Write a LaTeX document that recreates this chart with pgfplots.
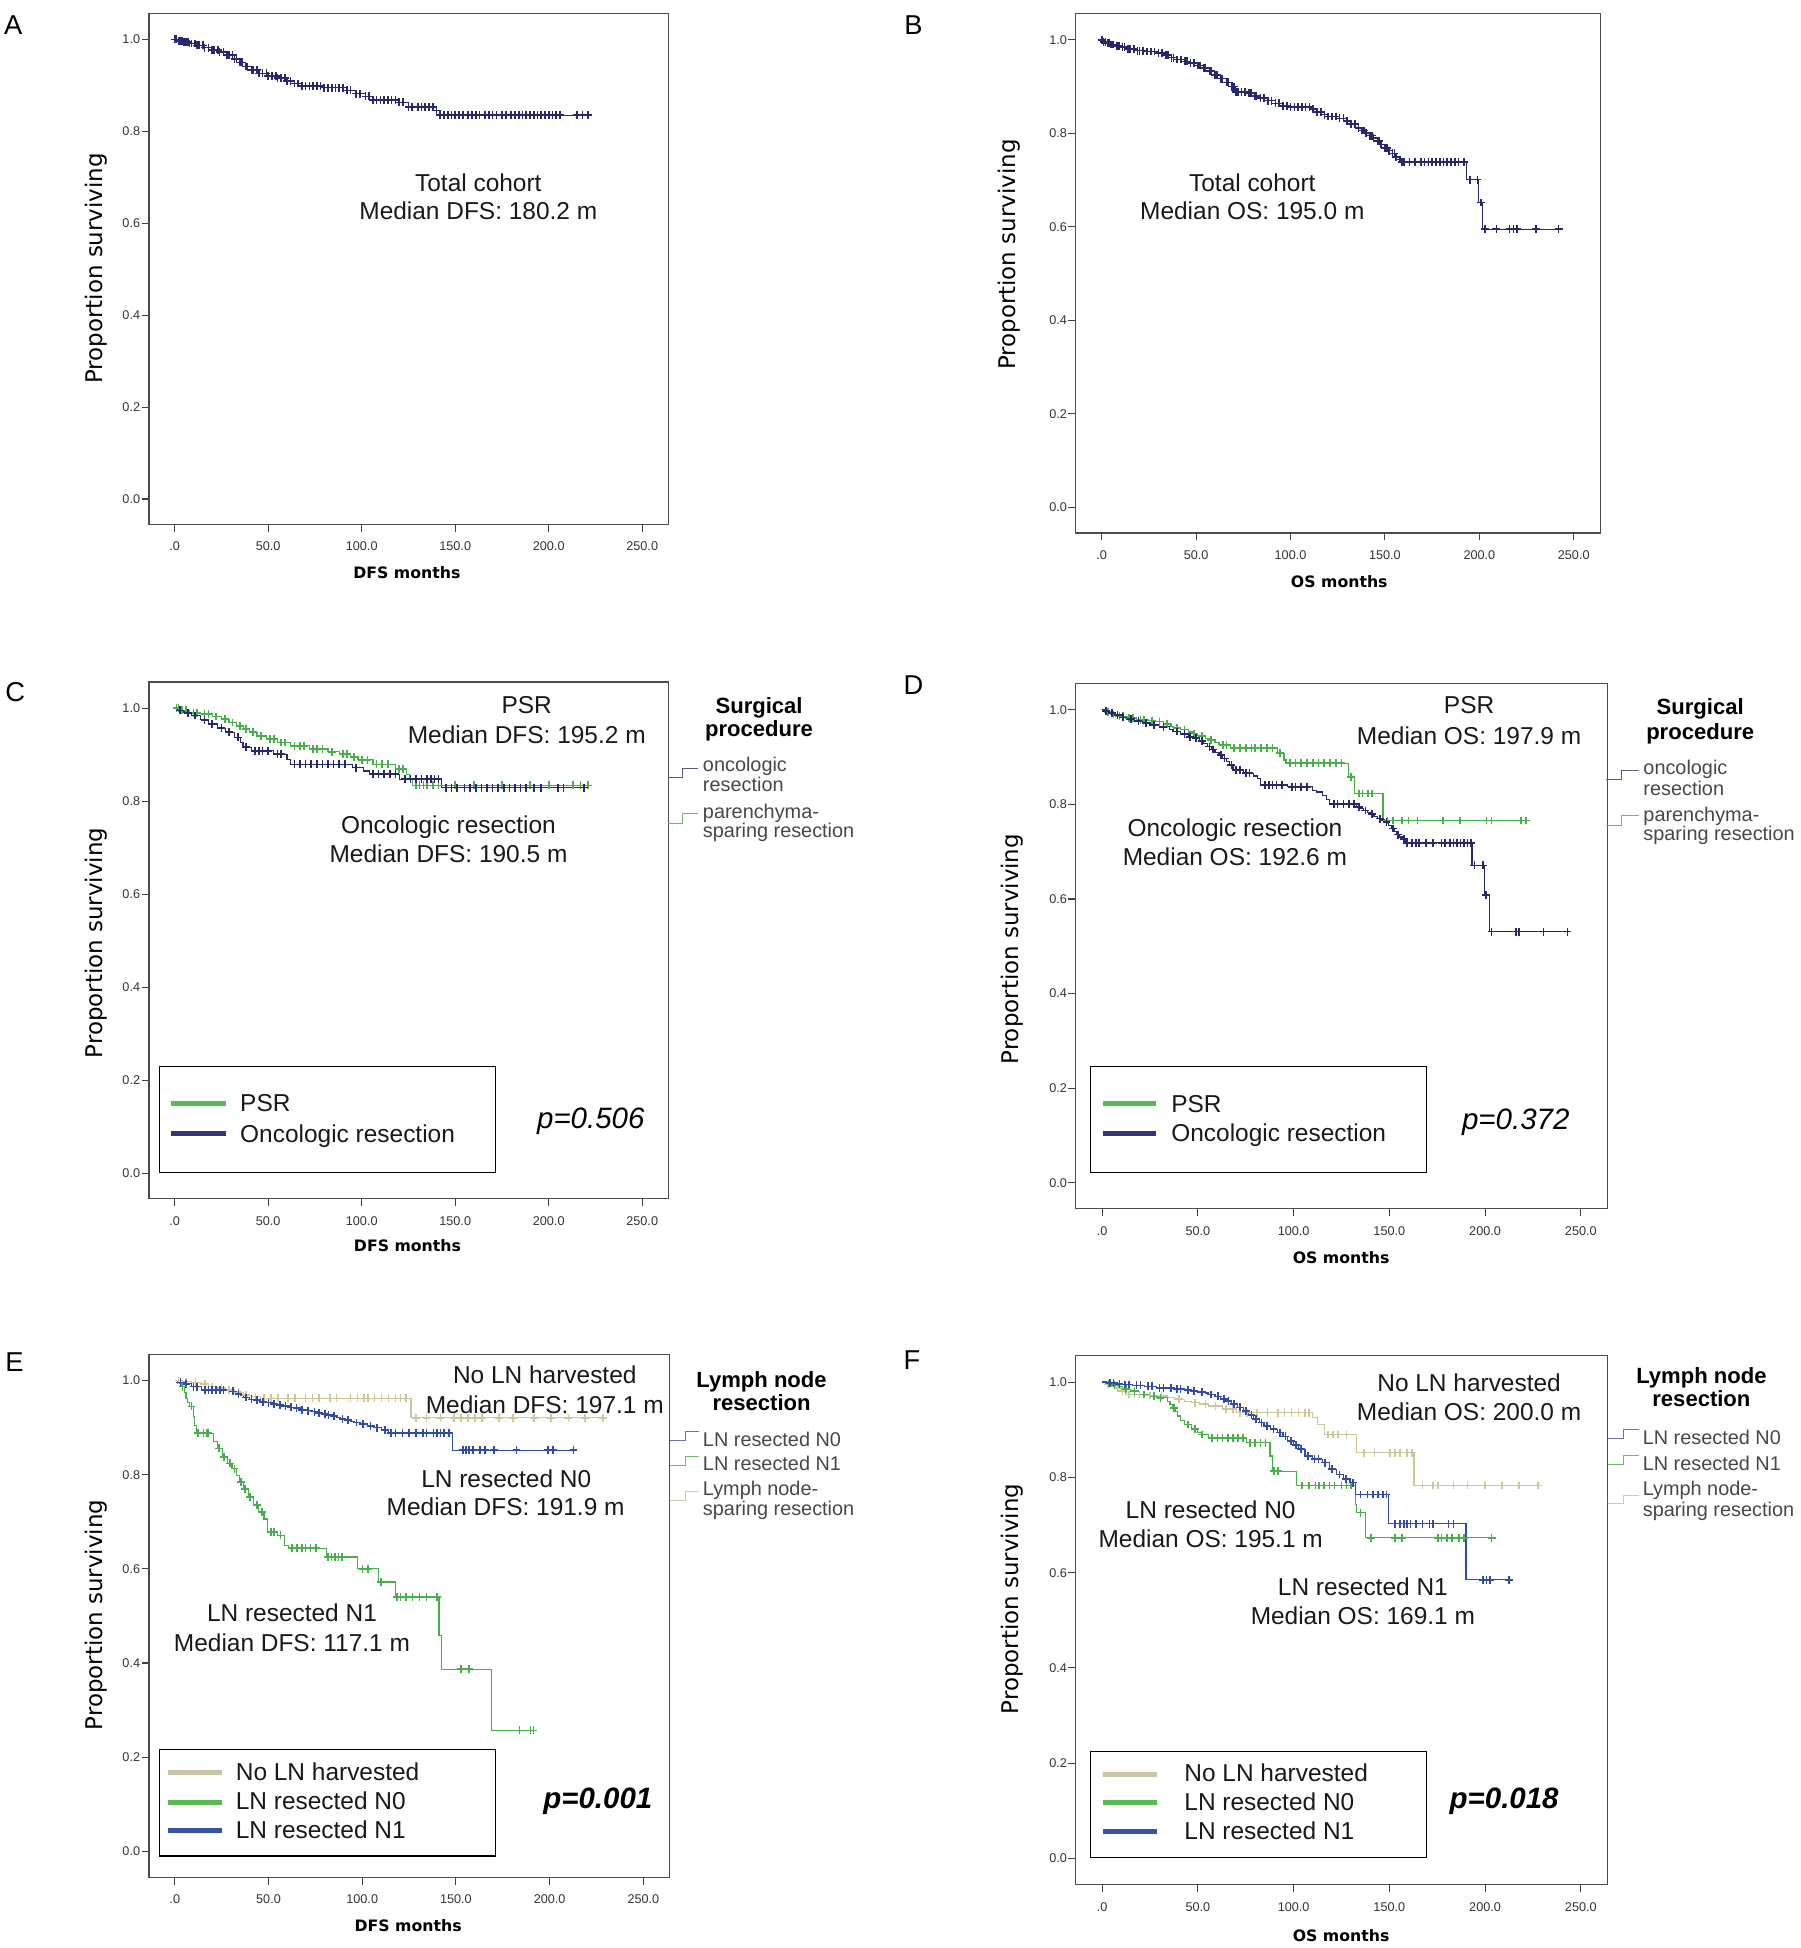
\documentclass[border=0pt]{standalone}
\usepackage{fontspec}
\setmainfont{Liberation Sans}
\newfontfamily\dejavu{DejaVu Sans}
\usepackage{pgfplots}
\usepackage{pgfplotstable}
\pgfplotsset{compat=1.18}

\definecolor{navy}{RGB}{40,40,112}
\definecolor{kmgreen}{RGB}{72,176,72}
\definecolor{kmblue}{RGB}{50,75,170}
\definecolor{kmbeige}{RGB}{206,198,152}
\definecolor{lgreen}{RGB}{88,188,80}
\definecolor{lnavy}{RGB}{52,54,122}
\definecolor{lblue}{RGB}{56,82,168}
\definecolor{lbeige}{RGB}{202,196,166}
\definecolor{gnavy}{RGB}{90,90,120}
\definecolor{ggreen}{RGB}{110,185,110}
\definecolor{gblue}{RGB}{105,115,170}
\definecolor{gbeige}{RGB}{205,205,180}

\pgfplotsset{
  km/.style={
    scale only axis, anchor=north west,
    xmin=-13.7, xmax=264, ymin=-0.055, ymax=1.056,
    xtick={0,50,...,250}, xticklabels={.0,50.0,100.0,150.0,200.0,250.0},
    ytick={0,0.2,0.4,0.6,0.8,1.0}, yticklabels={0.0,0.2,0.4,0.6,0.8,1.0},
    tick align=outside, tick pos=left, major tick length=1.2mm,
    tick style={black!75, line width=0.5pt},
    axis line style={black!70, line width=0.55pt},
    ticklabel style={font=\fontsize{5.8}{6}\selectfont, text=black!80},
    xticklabel style={yshift=-0.4mm},
    yticklabel style={inner xsep=0.5pt},
  },
  kmline/.style={const plot, line width=0.55pt, #1},
  kmmarks/.style={only marks, mark=+, mark size=1.8pt, mark options={line width=0.75pt}, #1},
  kmcens/.style={kmmarks=#1, restrict expr to domain={\thisrow{c}}{0.5:1.5}},
}

% time, survival, censored flag
\pgfplotstableread{
t s c
0 1.000 0
1 1.000 1
2 0.997 0
3 0.997 1
4 0.997 1
5 0.994 0
6 0.994 1
7 0.994 1
8 0.991 0
9 0.991 1
11 0.991 1
12 0.987 0
13 0.987 1
15 0.987 1
16 0.982 0
18 0.982 1
20 0.977 0
21 0.977 1
23 0.977 1
24 0.972 0
26 0.972 1
28 0.966 0
29 0.966 1
31 0.966 1
32 0.958 0
33 0.958 1
35 0.950 0
36 0.950 1
38 0.941 0
39 0.941 1
41 0.933 0
42 0.933 1
44 0.933 1
45 0.926 0
47 0.926 1
49 0.926 1
50 0.921 0
52 0.921 1
54 0.921 1
55 0.916 0
57 0.916 1
59 0.916 1
60 0.910 0
62 0.910 1
64 0.904 0
66 0.904 1
68 0.899 0
70 0.899 1
72 0.899 1
74 0.899 1
76 0.899 1
78 0.899 1
80 0.895 0
82 0.895 1
84 0.895 1
86 0.895 1
88 0.895 1
90 0.895 1
92 0.889 0
94 0.889 1
97 0.882 0
99 0.882 1
102 0.876 0
104 0.876 1
106 0.868 0
108 0.868 1
110 0.868 1
112 0.868 1
114 0.868 1
116 0.868 1
118 0.868 1
120 0.863 0
122 0.863 1
125 0.853 0
127 0.853 1
130 0.853 1
132 0.853 1
134 0.853 1
136 0.853 1
138 0.853 1
140 0.845 0
142 0.835 0
144 0.835 1
146 0.835 1
148 0.835 1
150 0.835 1
152 0.835 1
154 0.835 1
157 0.835 1
159 0.835 1
161 0.835 1
163 0.835 1
166 0.835 1
168 0.835 1
170 0.835 1
172 0.835 1
175 0.835 1
177 0.835 1
180 0.835 1
182 0.835 1
184 0.835 1
186 0.835 1
188 0.835 1
190 0.835 1
192 0.835 1
194 0.835 1
196 0.835 1
198 0.835 1
200 0.835 1
202 0.835 1
204 0.835 1
206 0.835 1
215 0.835 1
218 0.835 1
221 0.835 1
}\tA

\pgfplotstableread{
t s c
0 1.000 0
1 0.996 0
2 0.996 1
3 0.993 0
4 0.993 1
5 0.990 0
6 0.990 1
8 0.987 0
9 0.987 1
11 0.984 0
12 0.984 1
14 0.980 0
15 0.980 1
17 0.980 1
19 0.977 0
20 0.977 1
22 0.977 1
24 0.975 0
26 0.975 1
28 0.975 1
30 0.972 0
32 0.972 1
34 0.967 0
35 0.967 1
37 0.962 0
38 0.962 1
40 0.958 0
42 0.958 1
44 0.954 0
45 0.954 1
47 0.950 0
49 0.950 1
51 0.945 0
52 0.945 1
54 0.940 0
55 0.940 1
57 0.933 0
58 0.933 1
60 0.925 0
61 0.925 1
63 0.917 0
64 0.917 1
66 0.909 0
67 0.909 1
69 0.900 0
70 0.900 1
71 0.889 0
72 0.889 1
74 0.889 1
76 0.889 1
78 0.886 0
79 0.886 1
81 0.880 0
82 0.880 1
84 0.875 0
86 0.875 1
88 0.870 0
90 0.870 1
92 0.864 0
94 0.864 1
96 0.858 0
98 0.858 1
100 0.856 0
102 0.856 1
104 0.856 1
106 0.856 1
108 0.856 1
110 0.856 1
112 0.852 0
114 0.846 0
116 0.846 1
118 0.840 0
120 0.836 0
122 0.836 1
124 0.836 1
126 0.832 0
128 0.832 1
130 0.826 0
132 0.820 0
134 0.820 1
136 0.812 0
138 0.806 0
139 0.806 1
140 0.800 0
142 0.795 0
143 0.795 1
144 0.790 0
146 0.784 0
147 0.784 1
148 0.776 0
150 0.768 0
151 0.768 1
152 0.763 0
154 0.757 0
155 0.757 1
156 0.750 0
158 0.744 0
159 0.738 0
160 0.738 1
163 0.738 1
166 0.738 1
169 0.738 1
171 0.738 1
173 0.738 1
175 0.738 1
177 0.738 1
179 0.738 1
181 0.738 1
183 0.738 1
185 0.738 1
187 0.738 1
189 0.738 1
192 0.738 1
193 0.701 0
195 0.701 1
199 0.701 1
199.5 0.652 0
201 0.652 1
201.8 0.595 0
203 0.595 1
209 0.595 1
216 0.595 1
218 0.595 1
220 0.595 1
230 0.595 1
242 0.595 1
}\tB

\pgfplotstableread{
t s c
0 1.000 0
1 1.000 1
2 1.000 1
3 0.995 0
4 0.995 1
6 0.995 1
8 0.990 0
10 0.990 1
12 0.990 1
14 0.988 0
16 0.988 1
18 0.988 1
20 0.982 0
22 0.982 1
25 0.976 0
27 0.976 1
29 0.969 0
31 0.969 1
33 0.962 0
35 0.962 1
37 0.955 0
38 0.955 1
40 0.948 0
42 0.948 1
44 0.940 0
46 0.940 1
49 0.933 0
51 0.933 1
53 0.933 1
55 0.926 0
57 0.926 1
59 0.926 1
62 0.919 0
64 0.919 1
67 0.919 1
69 0.919 1
72 0.912 0
74 0.912 1
76 0.912 1
79 0.912 1
82 0.906 0
84 0.906 1
88 0.901 0
90 0.901 1
92 0.901 1
94 0.895 0
96 0.895 1
98 0.889 0
100 0.889 1
103 0.889 1
106 0.879 0
108 0.879 1
111 0.879 1
114 0.879 1
118 0.869 0
120 0.869 1
122 0.869 1
124 0.858 0
125.5 0.847 0
127 0.834 0
129 0.834 1
131 0.834 1
133 0.834 1
135 0.834 1
138 0.834 1
141 0.834 1
150 0.834 1
160 0.834 1
175 0.834 1
190 0.834 1
200 0.834 1
213 0.834 1
217 0.834 1
221 0.834 1
}\tCg

\pgfplotstableread{
t s c
0 1.000 0
1.5 0.995 0
3 0.995 1
5 0.990 0
7 0.990 1
9 0.984 0
11 0.984 1
14 0.975 0
16 0.975 1
18 0.966 0
20 0.966 1
23 0.957 0
25 0.957 1
27 0.948 0
29 0.948 1
32 0.937 0
34 0.937 1
35 0.926 0
36.5 0.916 0
38 0.916 1
41 0.908 0
43 0.908 1
45 0.908 1
47 0.908 1
50 0.908 1
53 0.901 0
55 0.901 1
57 0.901 1
60 0.890 0
62 0.879 0
64 0.879 1
67 0.879 1
70 0.879 1
73 0.879 1
76 0.879 1
79 0.879 1
82 0.879 1
85 0.879 1
88 0.879 1
91 0.879 1
95 0.872 0
97 0.872 1
101 0.865 0
104 0.858 0
106 0.858 1
109 0.858 1
112 0.858 1
115 0.858 1
118 0.858 1
120 0.847 0
123 0.847 1
126 0.847 1
129 0.847 1
132 0.847 1
135 0.847 1
137 0.847 1
139 0.847 1
141 0.847 1
142.5 0.829 0
145 0.829 1
148 0.829 1
151 0.829 1
155 0.829 1
158 0.829 1
161 0.829 1
164 0.829 1
167 0.829 1
170 0.829 1
173 0.829 1
176 0.829 1
179 0.829 1
182 0.829 1
185 0.829 1
188 0.829 1
192 0.829 1
196 0.829 1
205 0.829 1
208 0.829 1
219 0.829 1
}\tCn

\pgfplotstableread{
t s c
0 1.000 0
2 0.995 0
3 0.995 1
5 0.990 0
6 0.990 1
8 0.986 0
9 0.986 1
11 0.986 1
13 0.982 0
14 0.982 1
16 0.982 1
18 0.979 0
20 0.979 1
22 0.979 1
24 0.977 0
26 0.977 1
28 0.975 0
30 0.975 1
32 0.970 0
34 0.970 1
36 0.965 0
37 0.962 0
39 0.962 1
41 0.958 0
43 0.958 1
45 0.953 0
47 0.950 0
48 0.950 1
50 0.945 0
52 0.945 1
54 0.940 0
56 0.936 0
57 0.936 1
59 0.931 0
61 0.926 0
63 0.926 1
65 0.926 1
67 0.919 0
69 0.919 1
72 0.919 1
75 0.919 1
78 0.919 1
80 0.919 1
83 0.919 1
86 0.919 1
89 0.919 1
91.5 0.908 0
93 0.908 1
95 0.894 0
96 0.887 0
98 0.887 1
101 0.887 1
104 0.887 1
107 0.887 1
110 0.887 1
113 0.887 1
116 0.887 1
119 0.887 1
122 0.887 1
125 0.887 1
128.5 0.858 0
130 0.858 1
132 0.823 0
134 0.823 1
136 0.823 1
139 0.823 1
141 0.823 1
146.7 0.766 0
149 0.766 1
152 0.766 1
156.6 0.766 1
160 0.766 1
164.7 0.766 1
178 0.766 1
187 0.766 1
200.7 0.766 1
203.4 0.766 1
218.7 0.766 1
221.4 0.766 1
}\tDg

\pgfplotstableread{
t s c
0 1.000 0
1 0.997 0
2 0.997 1
4 0.993 0
5 0.993 1
7 0.989 0
8 0.989 1
10 0.984 0
11 0.984 1
13 0.980 0
15 0.980 1
17 0.976 0
19 0.976 1
21 0.972 0
23 0.972 1
25 0.968 0
27 0.968 1
30 0.964 0
32 0.964 1
35 0.958 0
37 0.954 0
39 0.954 1
41 0.949 0
43 0.949 1
45 0.943 0
46 0.943 1
47 0.940 0
49 0.940 1
51 0.934 0
52 0.934 1
53 0.928 0
55 0.922 0
56 0.922 1
57 0.916 0
58 0.916 1
59 0.910 0
61 0.904 0
62 0.904 1
63 0.897 0
64 0.897 1
65 0.890 0
66.5 0.883 0
67.5 0.883 1
68.3 0.873 0
70 0.873 1
72 0.873 1
73.7 0.866 0
75 0.866 1
77 0.866 1
79 0.860 0
81 0.855 0
82.7 0.841 0
85 0.841 1
87 0.841 1
89 0.841 1
91 0.841 1
94 0.841 1
97 0.837 0
99 0.837 1
101 0.837 1
104 0.837 1
107 0.837 1
109.7 0.830 0
112 0.826 0
115 0.819 0
117 0.810 0
118.7 0.801 0
121 0.801 1
123 0.801 1
126 0.801 1
129 0.801 1
131.4 0.801 1
133 0.795 0
134 0.795 1
135 0.791 0
136.7 0.787 0
137.5 0.787 1
138.5 0.783 0
140.4 0.780 0
141 0.780 1
142 0.775 0
144 0.770 0
145 0.770 1
146 0.767 0
147.6 0.763 0
148.5 0.763 1
149.5 0.756 0
151 0.749 0
152 0.749 1
152.5 0.743 0
153.9 0.736 0
154.5 0.736 1
155.3 0.731 0
156.6 0.727 0
157.5 0.727 1
158.4 0.719 0
159.3 0.719 1
162 0.719 1
163.8 0.719 1
165.6 0.719 1
169.2 0.719 1
172.8 0.719 1
177.3 0.719 1
179.1 0.719 1
181.8 0.719 1
183.6 0.719 1
185.4 0.719 1
187.2 0.719 1
189 0.719 1
190.8 0.719 1
192.6 0.719 1
193.2 0.671 0
194.4 0.671 1
198.9 0.671 1
199.8 0.608 0
200.4 0.608 1
202.2 0.531 0
203.4 0.531 1
216 0.531 1
217.8 0.531 1
230.5 0.531 1
243 0.531 1
}\tDn

\pgfplotstableread{
t s c
0 1.000 0
2 1.000 1
4 0.998 0
6 0.998 1
8.9 0.996 0
11 0.996 1
14 0.992 0
16 0.992 1
18 0.987 0
20 0.987 1
23 0.984 0
25 0.984 1
27 0.980 0
29 0.980 1
32 0.975 0
34 0.975 1
36.5 0.969 0
38 0.969 1
41 0.966 0
43 0.966 1
45.8 0.962 0
47.6 0.962 1
51.3 0.962 1
55 0.962 1
60.5 0.962 1
64.2 0.962 1
69.7 0.962 1
73.4 0.962 1
77.1 0.962 1
82.7 0.962 1
86.3 0.962 1
93.7 0.962 1
97.4 0.962 1
101 0.962 1
103 0.962 1
106.6 0.962 1
110.3 0.962 1
114 0.962 1
117.7 0.962 1
120.5 0.962 1
123.2 0.962 1
126 0.921 0
128.8 0.921 1
134.3 0.921 1
141.7 0.921 1
149 0.921 1
152.8 0.921 1
156.5 0.921 1
160 0.921 1
163.8 0.921 1
173 0.921 1
180.4 0.921 1
191.5 0.921 1
200.7 0.921 1
210 0.921 1
219 0.921 1
228.4 0.921 1
}\tEb

\pgfplotstableread{
t s c
0 1.000 0
2 0.996 0
3 0.996 1
5 0.993 0
6 0.993 1
8.9 0.987 0
10 0.987 1
12 0.987 1
14.4 0.980 0
16 0.980 1
18 0.980 1
20 0.980 1
22 0.980 1
24 0.980 1
26 0.980 1
29 0.977 0
31 0.977 1
33 0.972 0
34 0.972 1
35 0.968 0
36.5 0.964 0
38 0.964 1
40 0.960 0
41 0.960 1
43 0.958 0
44 0.958 1
45.8 0.955 0
47 0.955 1
49 0.953 0
50 0.953 1
52 0.950 0
53 0.950 1
55 0.948 0
56 0.948 1
58 0.946 0
59 0.946 1
61 0.943 0
62 0.943 1
64.2 0.941 0
65 0.941 1
67 0.938 0
68 0.938 1
70 0.936 0
71 0.936 1
73.4 0.934 0
74.5 0.934 1
76 0.931 0
77 0.931 1
78.5 0.929 0
80 0.929 1
80.8 0.927 0
82 0.927 1
84 0.924 0
85 0.924 1
86.5 0.921 0
88.2 0.918 0
89.5 0.918 1
91 0.916 0
92.5 0.916 1
94 0.913 0
95.6 0.911 0
97 0.911 1
99 0.908 0
100.5 0.908 1
103 0.904 0
104.5 0.904 1
106.5 0.900 0
108 0.900 1
110.3 0.895 0
112 0.895 1
114 0.888 0
115.5 0.888 1
117.7 0.888 1
121.4 0.888 1
125 0.888 1
128.8 0.888 1
132.5 0.888 1
134.3 0.888 1
138 0.888 1
139.8 0.888 1
141.7 0.888 1
143.5 0.888 1
146.3 0.888 1
148 0.852 0
153.7 0.852 1
155.5 0.852 1
157 0.852 1
159 0.852 1
163 0.852 1
165.5 0.852 1
170.3 0.852 1
182.3 0.852 1
199 0.852 1
201.7 0.852 1
212.7 0.852 1
}\tEn

\pgfplotstableread{
t s c
0 1.000 0
1.5 0.994 0
3.3 0.987 0
4.2 0.987 1
5 0.975 0
6 0.962 0
7 0.954 0
8 0.945 0
8.9 0.945 1
9.8 0.923 0
10.7 0.905 0
11.6 0.888 0
12.5 0.888 1
15.3 0.888 1
17.2 0.888 1
18 0.888 1
20.8 0.870 0
22.7 0.856 0
23.6 0.856 1
25.5 0.838 0
26.4 0.838 1
28.2 0.824 0
29.5 0.824 1
30.5 0.813 0
31.9 0.813 1
32.8 0.799 0
34.7 0.785 0
35.5 0.785 1
36.5 0.770 0
37.5 0.770 1
39.3 0.753 0
40.2 0.753 1
42 0.735 0
43.9 0.735 1
44.8 0.721 0
46.7 0.721 1
47.6 0.706 0
49.4 0.678 0
51.3 0.678 1
53.1 0.678 1
55 0.671 0
56.5 0.671 1
58.7 0.650 0
60.5 0.644 0
62.4 0.644 1
65.1 0.644 1
67.9 0.644 1
69.7 0.644 1
72.5 0.644 1
75.3 0.644 1
80.8 0.625 0
81.7 0.625 1
83.6 0.625 1
85.4 0.625 1
87.3 0.625 1
89.1 0.625 1
97.4 0.600 0
100.2 0.600 1
103 0.600 1
108.5 0.572 0
110 0.572 1
117.7 0.540 0
118.6 0.540 1
120.5 0.540 1
123.2 0.540 1
126.9 0.540 1
130.6 0.540 1
134.3 0.540 1
139.9 0.540 1
141 0.458 0
142.5 0.387 0
152.7 0.387 1
157 0.387 1
169 0.257 0
183.9 0.257 1
189.8 0.257 1
191.3 0.257 1
}\tEg

\pgfplotstableread{
t s c
0 1.000 0
2 0.995 0
3 0.995 1
5 0.991 0
7 0.988 0
8 0.988 1
10 0.981 0
10.6 0.981 1
12.4 0.974 0
14 0.974 1
17 0.974 1
19.6 0.974 1
22 0.972 0
25 0.972 1
28.6 0.971 0
31 0.971 1
34 0.967 0
37.7 0.964 0
40 0.964 1
43 0.960 0
46.7 0.957 0
48.5 0.957 1
51 0.954 0
53.9 0.954 1
55.7 0.950 0
59.3 0.950 1
62.9 0.943 0
64.7 0.943 1
68.3 0.943 1
70 0.936 0
71.9 0.936 1
75.5 0.936 1
80.9 0.936 1
86.3 0.936 1
91.7 0.936 1
95.3 0.936 1
98.9 0.936 1
102.5 0.936 1
106.1 0.936 1
108 0.936 1
109.7 0.925 0
112.4 0.911 0
116 0.890 0
117.8 0.890 1
120.5 0.890 1
123.2 0.890 1
127.7 0.890 1
132.8 0.852 0
136.8 0.852 1
142.2 0.852 1
150.3 0.852 1
153 0.852 1
155.7 0.852 1
159.3 0.852 1
162 0.852 1
162.9 0.783 0
167.4 0.783 1
172.8 0.783 1
175.5 0.783 1
183.6 0.783 1
190.8 0.783 1
199.8 0.783 1
208.8 0.783 1
217.8 0.783 1
227.7 0.783 1
}\tFb

\pgfplotstableread{
t s c
0 1.000 0
3 0.998 0
4 0.998 1
6 0.998 1
8 0.996 0
9 0.996 1
10.6 0.995 0
12 0.995 1
14 0.995 1
16 0.993 0
18 0.993 1
20 0.993 1
22 0.991 0
24 0.991 1
26 0.991 1
28.6 0.988 0
30 0.988 1
32 0.988 1
34 0.987 0
36 0.987 1
37.7 0.985 0
39 0.985 1
41 0.985 1
43 0.983 0
45 0.983 1
46.7 0.981 0
48 0.981 1
50 0.979 0
52 0.979 1
54 0.977 0
55.7 0.974 0
57 0.974 1
59 0.970 0
60.5 0.970 1
62 0.965 0
63.5 0.965 1
64.7 0.960 0
66 0.960 1
67.5 0.954 0
69 0.954 1
70.5 0.947 0
72 0.947 1
73.7 0.939 0
75 0.939 1
76.5 0.931 0
78 0.931 1
79 0.922 0
80.5 0.922 1
82 0.915 0
83.2 0.915 1
84.5 0.908 0
86 0.908 1
88 0.901 0
89.5 0.901 1
91.7 0.894 0
93 0.894 1
94.5 0.886 0
95.7 0.886 1
97 0.876 0
98.5 0.876 1
100 0.868 0
101.3 0.868 1
102.5 0.859 0
104 0.859 1
106 0.845 0
107.5 0.845 1
109.7 0.838 0
111 0.838 1
113 0.838 1
115 0.831 0
116.5 0.831 1
118.7 0.817 0
120 0.817 1
122.3 0.806 0
124 0.806 1
126 0.797 0
127.5 0.797 1
129.5 0.789 0
131 0.789 1
132.3 0.764 0
135 0.764 1
138.6 0.764 1
141.3 0.764 1
144 0.764 1
146.7 0.764 1
148.5 0.764 1
149.4 0.703 0
153 0.703 1
155.7 0.703 1
157.5 0.703 1
159.3 0.703 1
161 0.703 1
163.8 0.703 1
167.4 0.703 1
171 0.703 1
172.8 0.703 1
180.9 0.703 1
183.6 0.703 1
190 0.585 0
198.9 0.585 1
200.7 0.585 1
202.5 0.585 1
212.4 0.585 1
}\tFn

\pgfplotstableread{
t s c
0 1.000 0
2 0.997 0
3.5 0.997 1
5.2 0.994 0
6.5 0.994 1
8.5 0.990 0
10.6 0.985 0
12.4 0.985 1
15 0.981 0
17 0.981 1
19.6 0.974 0
22 0.974 1
25 0.970 0
27 0.970 1
28.6 0.967 0
30.5 0.967 1
34 0.960 0
35.5 0.953 0
36.8 0.946 0
37.7 0.946 1
38.5 0.938 0
39.5 0.929 0
41 0.920 0
43 0.911 0
44.9 0.911 1
46.7 0.901 0
48.5 0.901 1
50 0.895 0
52 0.890 0
52.1 0.890 1
55.7 0.883 0
57.5 0.883 1
60.2 0.883 1
62.9 0.883 1
65.6 0.883 1
68.3 0.883 1
71 0.883 1
73.7 0.883 1
75.5 0.873 0
77.3 0.873 1
80 0.873 1
82.7 0.873 1
85.4 0.873 1
87.7 0.845 0
89 0.813 0
89.9 0.813 1
91.7 0.813 1
101.6 0.783 0
104.3 0.783 1
107.9 0.783 1
111.5 0.783 1
113.3 0.783 1
116 0.783 1
118.7 0.783 1
121.4 0.783 1
125 0.783 1
127.7 0.783 1
129.9 0.783 1
132.3 0.743 0
133 0.726 0
135 0.726 1
137.7 0.673 0
140.4 0.673 1
153 0.673 1
156.6 0.673 1
175.5 0.673 1
177.3 0.673 1
180 0.673 1
182.7 0.673 1
186.3 0.673 1
189 0.673 1
203.4 0.673 1
}\tFg

\newcommand\ann{\fontsize{11.2}{13}\selectfont}
\newcommand\rleg{\fontsize{9.1}{9.3}\selectfont}

\begin{document}
\begin{tikzpicture}
\useasboundingbox (0,0) rectangle (289.8mm,-313.6mm);

% ---------------- A (dense censoring: mark every record up to the plateau)
\begin{axis}[km, at={(24mm,-2.2mm)}, width=83.6mm, height=82.2mm]
\addplot[kmline=navy] table[x=t,y=s]{\tA};
\addplot[kmmarks=navy] table[x=t,y=s]{\tA};
\end{axis}
% ---------------- B
\begin{axis}[km, at={(173.2mm,-2.2mm)}, width=84.4mm, height=83.6mm]
\addplot[kmline=navy] table[x=t,y=s]{\tB};
\addplot[kmmarks=navy, restrict x to domain=0:192.5] table[x=t,y=s]{\tB};
\addplot[kmcens=navy] table[x=t,y=s]{\tB};
\end{axis}
% ---------------- C
\begin{axis}[km, at={(24mm,-109.8mm)}, width=83.6mm, height=83.2mm]
\addplot[kmline=kmgreen] table[x=t,y=s]{\tCg};
\addplot[kmcens=kmgreen] table[x=t,y=s]{\tCg};
\addplot[kmline=navy] table[x=t,y=s]{\tCn};
\addplot[kmcens=navy] table[x=t,y=s]{\tCn};
\end{axis}
% ---------------- D
\begin{axis}[km, at={(173.2mm,-110mm)}, width=85.6mm, height=84.6mm]
\addplot[kmline=kmgreen] table[x=t,y=s]{\tDg};
\addplot[kmcens=kmgreen] table[x=t,y=s]{\tDg};
\addplot[kmline=navy] table[x=t,y=s]{\tDn};
\addplot[kmcens=navy] table[x=t,y=s]{\tDn};
\end{axis}
% ---------------- E
\begin{axis}[km, at={(24mm,-218mm)}, width=83.8mm, height=84.2mm]
\addplot[kmline=kmbeige] table[x=t,y=s]{\tEb};
\addplot[kmcens=kmbeige] table[x=t,y=s]{\tEb};
\addplot[kmline=kmblue] table[x=t,y=s]{\tEn};
\addplot[kmcens=kmblue] table[x=t,y=s]{\tEn};
\addplot[kmline=kmgreen] table[x=t,y=s]{\tEg};
\addplot[kmcens=kmgreen] table[x=t,y=s]{\tEg};
\end{axis}
% ---------------- F
\begin{axis}[km, at={(173.2mm,-218.2mm)}, width=85.6mm, height=85.2mm]
\addplot[kmline=kmbeige] table[x=t,y=s]{\tFb};
\addplot[kmcens=kmbeige] table[x=t,y=s]{\tFb};
\addplot[kmline=kmgreen] table[x=t,y=s]{\tFg};
\addplot[kmcens=kmgreen] table[x=t,y=s]{\tFg};
\addplot[kmline=kmblue] table[x=t,y=s]{\tFn};
\addplot[kmcens=kmblue] table[x=t,y=s]{\tFn};
\end{axis}

% panel letters
\begin{scope}[every node/.style={font=\fontsize{12.5}{14}\selectfont, inner sep=0pt, anchor=base west}]
\node at (0.6mm,-5.6mm) {A};
\node at (145.5mm,-5.5mm) {B};
\node at (0.8mm,-112.9mm) {C};
\node at (145.4mm,-111.8mm) {D};
\node at (0.8mm,-220.8mm) {E};
\node at (145.4mm,-220.4mm) {F};
\end{scope}

% axis titles
\begin{scope}[every node/.style={font=\dejavu\fontsize{10.5}{12}\selectfont, rotate=90, anchor=base, inner sep=0pt}]
\node at (16.46mm,-43.2mm) {Proportion surviving};
\node at (163.46mm,-41mm) {Proportion surviving};
\node at (16.5mm,-151.8mm) {Proportion surviving};
\node at (163.94mm,-152.8mm) {Proportion surviving};
\node at (16.5mm,-260mm) {Proportion surviving};
\node at (163.94mm,-257.4mm) {Proportion surviving};
\end{scope}
\begin{scope}[every node/.style={font=\dejavu\bfseries\fontsize{7.2}{8}\selectfont, anchor=base, inner sep=0pt}]
\node at (65.5mm,-93.1mm) {DFS months};
\node at (215.6mm,-94.5mm) {OS months};
\node at (65.6mm,-201.4mm) {DFS months};
\node at (215.9mm,-203.4mm) {OS months};
\node at (65.7mm,-310.9mm) {DFS months};
\node at (215.9mm,-312.6mm) {OS months};
\end{scope}

% annotations
\begin{scope}[every node/.style={font=\ann, anchor=base, inner sep=0pt, text=black!90}]
\node at (77mm,-30.8mm) {Total cohort};
\node at (77mm,-35.4mm) {Median DFS: 180.2 m};
\node at (201.6mm,-30.8mm) {Total cohort};
\node at (201.6mm,-35.4mm) {Median OS: 195.0 m};
\node at (84.8mm,-114.9mm) {PSR};
\node at (84.8mm,-119.7mm) {Median DFS: 195.2 m};
\node at (72.2mm,-134.2mm) {Oncologic resection};
\node at (72.2mm,-138.9mm) {Median DFS: 190.5 m};
\node at (236.5mm,-114.9mm) {PSR};
\node at (236.5mm,-119.8mm) {Median OS: 197.9 m};
\node at (198.8mm,-134.7mm) {Oncologic resection};
\node at (198.8mm,-139.4mm) {Median OS: 192.6 m};
\node at (87.7mm,-222.8mm) {No LN harvested};
\node at (87.7mm,-227.5mm) {Median DFS: 197.1 m};
\node at (81.5mm,-239.4mm) {LN resected N0};
\node at (81.4mm,-244mm) {Median DFS: 191.9 m};
\node at (47mm,-261.1mm) {LN resected N1};
\node at (47mm,-265.8mm) {Median DFS: 117.1 m};
\node at (236.5mm,-224mm) {No LN harvested};
\node at (236.5mm,-228.6mm) {Median OS: 200.0 m};
\node at (194.9mm,-244.5mm) {LN resected N0};
\node at (194.9mm,-249.1mm) {Median OS: 195.1 m};
\node at (219.4mm,-256.9mm) {LN resected N1};
\node at (219.4mm,-261.5mm) {Median OS: 169.1 m};
\end{scope}

% in-plot legends
\begin{scope}[every node/.style={font=\ann, anchor=base west, inner sep=0pt, text=black!90}]
\draw[black, line width=0.55pt] (25.7mm,-171.7mm) rectangle (79.8mm,-188.8mm);
\draw[lgreen, line width=2.3pt] (27.6mm,-177.6mm) -- (36.4mm,-177.6mm);
\draw[lnavy, line width=2.3pt] (27.6mm,-182.5mm) -- (36.4mm,-182.5mm);
\node at (38.6mm,-179mm) {PSR};
\node at (38.6mm,-183.9mm) {Oncologic resection};
\draw[black, line width=0.55pt] (175.5mm,-171.7mm) rectangle (229.6mm,-188.7mm);
\draw[lgreen, line width=2.3pt] (177.5mm,-177.7mm) -- (186.1mm,-177.7mm);
\draw[lnavy, line width=2.3pt] (177.5mm,-182.4mm) -- (186.1mm,-182.4mm);
\node at (188.5mm,-179.1mm) {PSR};
\node at (188.5mm,-183.8mm) {Oncologic resection};
\draw[black, line width=0.55pt] (25.7mm,-281.6mm) rectangle (79.8mm,-298.8mm);
\draw[lbeige, line width=2.3pt] (27mm,-285.4mm) -- (35.7mm,-285.4mm);
\draw[lgreen, line width=2.3pt] (27mm,-290.1mm) -- (35.7mm,-290.1mm);
\draw[lblue, line width=2.3pt] (27mm,-294.7mm) -- (35.7mm,-294.7mm);
\node at (37.9mm,-286.6mm) {No LN harvested};
\node at (37.9mm,-291.3mm) {LN resected N0};
\node at (37.9mm,-295.9mm) {LN resected N1};
\draw[black, line width=0.55pt] (175.5mm,-281.9mm) rectangle (229.7mm,-299mm);
\draw[lbeige, line width=2.3pt] (177.5mm,-285.6mm) -- (186.3mm,-285.6mm);
\draw[lgreen, line width=2.3pt] (177.5mm,-290.2mm) -- (186.3mm,-290.2mm);
\draw[lblue, line width=2.3pt] (177.5mm,-294.9mm) -- (186.3mm,-294.9mm);
\node at (190.6mm,-286.8mm) {No LN harvested};
\node at (190.6mm,-291.4mm) {LN resected N0};
\node at (190.6mm,-296.1mm) {LN resected N1};
\end{scope}
\node[anchor=base west, inner sep=0pt, font=\fontsize{13.5}{15}\selectfont\itshape] at (86.4mm,-181.6mm) {p=0.506};
\node[anchor=base west, inner sep=0pt, font=\fontsize{13.5}{15}\selectfont\itshape] at (235.3mm,-181.8mm) {p=0.372};
\node[anchor=base west, inner sep=0pt, font=\fontsize{13.5}{15}\selectfont\bfseries\itshape] at (87.4mm,-291.1mm) {p=0.001};
\node[anchor=base west, inner sep=0pt, font=\fontsize{13.5}{15}\selectfont\bfseries\itshape] at (233.3mm,-291.2mm) {p=0.018};

% outside legends
\begin{scope}[every node/.style={font=\bfseries\fontsize{10.1}{11}\selectfont, anchor=base, inner sep=0pt}]
\node at (122.2mm,-114.8mm) {Surgical};
\node at (122.2mm,-118.6mm) {procedure};
\node at (273.7mm,-115.1mm) {Surgical};
\node at (273.7mm,-119mm) {procedure};
\node at (122.6mm,-223.3mm) {Lymph node};
\node at (122.6mm,-227.1mm) {resection};
\node at (273.9mm,-222.7mm) {Lymph node};
\node at (273.9mm,-226.5mm) {resection};
\end{scope}
\begin{scope}[every node/.style={font=\rleg, anchor=base west, inner sep=0pt, text=black!72}]
\node at (113.1mm,-124.2mm) {oncologic};
\node at (113.1mm,-127.4mm) {resection};
\node at (113.1mm,-131.7mm) {parenchyma-};
\node at (113.1mm,-134.9mm) {sparing resection};
\node at (264.5mm,-124.7mm) {oncologic};
\node at (264.5mm,-128mm) {resection};
\node at (264.5mm,-132.2mm) {parenchyma-};
\node at (264.5mm,-135.3mm) {sparing resection};
\node at (113.1mm,-232.8mm) {LN resected N0};
\node at (113.1mm,-236.8mm) {LN resected N1};
\node at (113.1mm,-240.7mm) {Lymph node-};
\node at (113.1mm,-244mm) {sparing resection};
\node at (264.4mm,-232.5mm) {LN resected N0};
\node at (264.4mm,-236.7mm) {LN resected N1};
\node at (264.4mm,-240.8mm) {Lymph node-};
\node at (264.4mm,-244.1mm) {sparing resection};
\end{scope}
\begin{scope}[line width=0.45pt]
\draw[gnavy] (107.5mm,-125.1mm) -- (109.9mm,-125.1mm) -- (109.9mm,-123.7mm) -- (112.4mm,-123.7mm);
\draw[ggreen] (107.5mm,-132.5mm) -- (109.9mm,-132.5mm) -- (109.9mm,-131mm) -- (112.4mm,-131mm);
\draw[gnavy] (258.6mm,-125.5mm) -- (261.1mm,-125.5mm) -- (261.1mm,-124mm) -- (263.8mm,-124mm);
\draw[ggreen] (258.6mm,-132.9mm) -- (261.1mm,-132.9mm) -- (261.1mm,-131.3mm) -- (263.8mm,-131.3mm);
\draw[gblue] (107.8mm,-231.9mm) -- (110.4mm,-231.9mm) -- (110.4mm,-230.5mm) -- (112.6mm,-230.5mm);
\draw[ggreen] (107.8mm,-236mm) -- (110.4mm,-236mm) -- (110.4mm,-234.4mm) -- (112.6mm,-234.4mm);
\draw[gbeige] (107.8mm,-241.5mm) -- (110.4mm,-241.5mm) -- (110.4mm,-240.1mm) -- (112.6mm,-240.1mm);
\draw[gblue] (258.8mm,-231.5mm) -- (261.3mm,-231.5mm) -- (261.3mm,-230.2mm) -- (263.8mm,-230.2mm);
\draw[ggreen] (258.8mm,-235.7mm) -- (261.3mm,-235.7mm) -- (261.3mm,-234.3mm) -- (263.8mm,-234.3mm);
\draw[gbeige] (258.8mm,-242.1mm) -- (261.3mm,-242.1mm) -- (261.3mm,-240.7mm) -- (263.8mm,-240.7mm);
\end{scope}
\end{tikzpicture}
\end{document}
